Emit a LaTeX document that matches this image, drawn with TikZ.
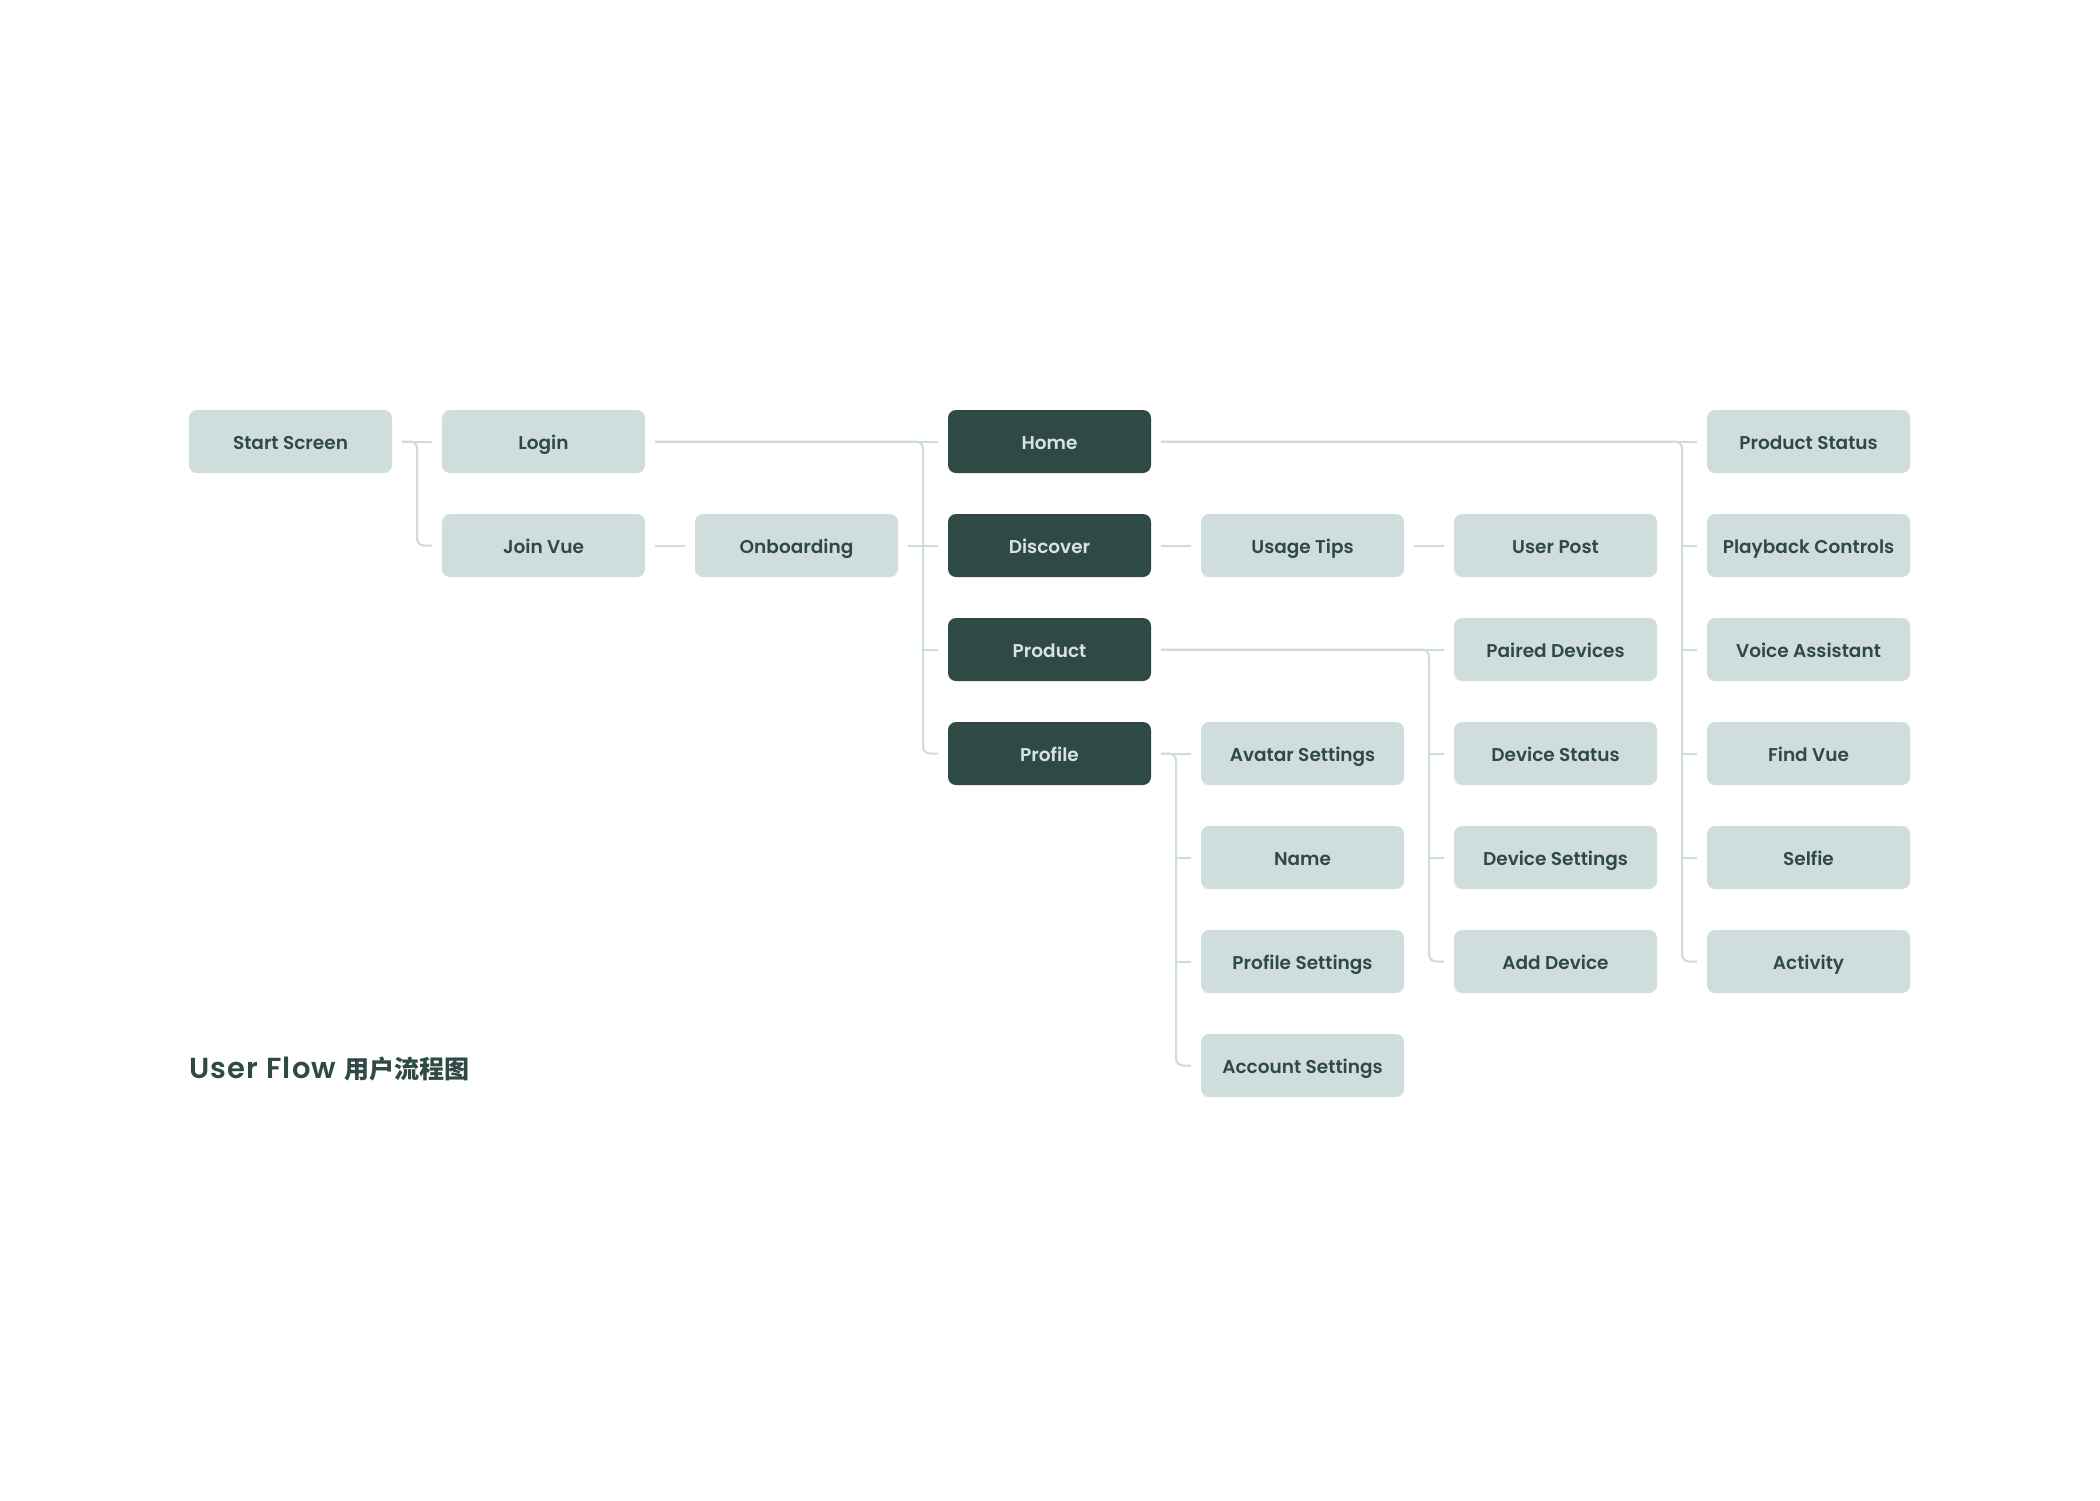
\documentclass[tikz,border=0pt]{standalone}
\usepackage{fontspec}
\setmainfont{Poppins}[BoldFont={Poppins SemiBold}]
\newfontfamily\cjk{Noto Sans CJK SC}
\usetikzlibrary{calc}
\definecolor{boxlite}{HTML}{CFDEDC}
\definecolor{ink}{HTML}{2F4A45}
\definecolor{inklite}{HTML}{D6E4E2}
\definecolor{linec}{HTML}{CCDCDA}
\begin{document}
\begin{tikzpicture}[x=1pt,y=-1pt,
  box/.style={rounded corners=8pt, minimum width=203pt, minimum height=63pt, inner sep=0pt, text height=18pt, text depth=3pt, font=\fontsize{18.5}{22}\selectfont\bfseries},
  lite/.style={box, fill=boxlite, text=ink},
  dark/.style={box, fill=ink, text=inklite},
  conn/.style={draw=linec, line width=2pt, rounded corners=7pt}]
\fill[white] (0,0) rectangle (2100,1500);
\useasboundingbox (0,0) rectangle (2100,1500);
% column 0-2
\node[lite] (start) at (290.5,441.5) {Start Screen};
\node[lite] (login) at (543.5,441.5) {Login};
\node[lite] (join) at (543.5,545.5) {Join Vue};
\node[lite] (onb) at (796.5,545.5) {Onboarding};
% column 3
\node[dark] (home) at (1049.5,441.5) {Home};
\node[dark] (disc) at (1049.5,545.5) {Discover};
\node[dark] (prod) at (1049.5,649.5) {Product};
\node[dark] (prof) at (1049.5,753.5) {Profile};
% column 4
\node[lite] (tips) at (1302.5,545.5) {Usage Tips};
\node[lite] (avatar) at (1302.5,753.5) {Avatar Settings};
\node[lite] (name) at (1302.5,857.5) {Name};
\node[lite] (psettings) at (1302.5,961.5) {Profile Settings};
\node[lite] (account) at (1302.5,1065.5) {Account Settings};
% column 5
\node[lite] (upost) at (1555.5,545.5) {User Post};
\node[lite] (paired) at (1555.5,649.5) {Paired Devices};
\node[lite] (dstatus) at (1555.5,753.5) {Device Status};
\node[lite] (dsettings) at (1555.5,857.5) {Device Settings};
\node[lite] (adddev) at (1555.5,961.5) {Add Device};
% column 6
\node[lite] (pstatus) at (1808.5,441.5) {Product Status};
\node[lite] (playback) at (1808.5,545.5) {Playback Controls};
\node[lite] (voice) at (1808.5,649.5) {Voice Assistant};
\node[lite] (find) at (1808.5,753.5) {Find Vue};
\node[lite] (selfie) at (1808.5,857.5) {Selfie};
\node[lite] (activity) at (1808.5,961.5) {Activity};
% title
\node[anchor=base west, inner sep=0pt, text=ink] (title) at (189,1078)
  {\fontsize{29}{34}\selectfont\bfseries\addfontfeatures{LetterSpace=4}User Flow {\cjk\bfseries\fontsize{25}{30}\selectfont 用户流程图}};
% bracket coordinates
\coordinate (b0) at ($(start.east)!.5!(login.west)$);
\coordinate (b1) at ($(onb.east)!.5!(disc.west)$);
\coordinate (b5) at ($(disc.east)!.5!(tips.west)$);
\coordinate (b4) at ($(tips.east)!.5!(upost.west)$);
\coordinate (b3) at ($(upost.east)!.5!(playback.west)$);
% start -> login / join
\draw[conn] ([xshift=10pt]start.east) -- ([xshift=-10pt]login.west);
\draw[conn] ([xshift=10pt]start.east) -- (b0) |- ([xshift=-10pt]join.west);
\draw[conn] ([xshift=10pt]join.east) -- ([xshift=-10pt]onb.west);
% login / onboarding -> home..profile
\draw[conn] ([xshift=10pt]login.east) -- ([xshift=-10pt]home.west);
\draw[conn] ([xshift=10pt]onb.east) -- ([xshift=-10pt]disc.west);
\draw[conn] ([xshift=10pt]login.east) -- (b1 |- home.west) |- ([xshift=-10pt]prof.west);
\draw[conn] (b1 |- prod.west) -- ([xshift=-10pt]prod.west);
% discover chain
\draw[conn] ([xshift=10pt]disc.east) -- ([xshift=-10pt]tips.west);
\draw[conn] ([xshift=10pt]tips.east) -- ([xshift=-10pt]upost.west);
% profile -> column 4
\draw[conn] ([xshift=10pt]prof.east) -- ([xshift=-10pt]avatar.west);
\draw[conn] ([xshift=10pt]prof.east) -- (b5 |- prof.east) |- ([xshift=-10pt]account.west);
\draw[conn] (b5 |- name.west) -- ([xshift=-10pt]name.west);
\draw[conn] (b5 |- psettings.west) -- ([xshift=-10pt]psettings.west);
% product -> column 5
\draw[conn] ([xshift=10pt]prod.east) -- ([xshift=-10pt]paired.west);
\draw[conn] ([xshift=10pt]prod.east) -- (b4 |- prod.east) |- ([xshift=-10pt]adddev.west);
\draw[conn] (b4 |- dstatus.west) -- ([xshift=-10pt]dstatus.west);
\draw[conn] (b4 |- dsettings.west) -- ([xshift=-10pt]dsettings.west);
% home -> column 6
\draw[conn] ([xshift=10pt]home.east) -- ([xshift=-10pt]pstatus.west);
\draw[conn] ([xshift=10pt]home.east) -- (b3 |- home.east) |- ([xshift=-10pt]activity.west);
\draw[conn] (b3 |- playback.west) -- ([xshift=-10pt]playback.west);
\draw[conn] (b3 |- voice.west) -- ([xshift=-10pt]voice.west);
\draw[conn] (b3 |- find.west) -- ([xshift=-10pt]find.west);
\draw[conn] (b3 |- selfie.west) -- ([xshift=-10pt]selfie.west);
\end{tikzpicture}
\end{document}
